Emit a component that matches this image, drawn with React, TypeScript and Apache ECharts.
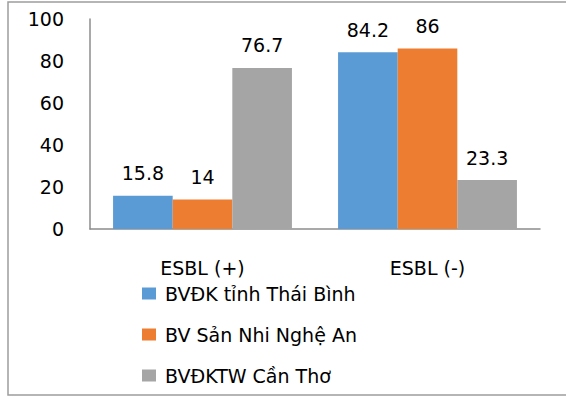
import React, { useEffect, useRef } from "react";
import * as echarts from "echarts";

const categories = ["ESBL (+)", "ESBL (-)"];
const seriesNames = ["BVĐK tỉnh Thái Bình", "BV Sản Nhi Nghệ An", "BVĐKTW Cần Thơ"];
const thaiBinh = [15.8, 84.2];
const ngheAn = [14, 86];
const canTho = [76.7, 23.3];
const colors = ["#5B9BD5", "#ED7D31", "#A5A5A5"];

const FONT = "DejaVu Sans";

export default function App() {
  const ref = useRef<HTMLDivElement>(null);

  useEffect(() => {
    if (!ref.current) return;
    const chart = echarts.init(ref.current, null, { renderer: "svg" });
    const values = [thaiBinh, ngheAn, canTho];
    chart.setOption({
      animation: false,
      backgroundColor: "#ffffff",
      textStyle: { fontFamily: FONT, color: "#000" },
      grid: { left: 90, right: 26, top: 19, bottom: 167, containLabel: false },
      graphic: [
        {
          type: "rect",
          shape: { x: 8, y: 2, width: 600, height: 393 },
          style: { fill: "none", stroke: "#9d9d9d", lineWidth: 1.5 },
          silent: true,
        },
      ],
      legend: {
        orient: "vertical",
        left: 137,
        top: 279,
        itemWidth: 14,
        itemHeight: 12,
        itemGap: 22,
        icon: "rect",
        data: seriesNames,
        textStyle: { fontFamily: FONT, fontSize: 19, color: "#000", padding: [0, 0, 0, 4] },
      },
      xAxis: {
        type: "category",
        data: categories,
        axisLine: { show: true, lineStyle: { color: "#8c8c8c", width: 1.5 } },
        axisTick: { show: false },
        axisLabel: { fontFamily: FONT, fontSize: 19, color: "#000", margin: 29 },
      },
      yAxis: {
        type: "value",
        min: 0,
        max: 100,
        interval: 20,
        splitLine: { show: false },
        axisLine: { show: true, lineStyle: { color: "#8c8c8c", width: 1.5 } },
        axisTick: { show: false },
        axisLabel: { fontFamily: FONT, fontSize: 19, color: "#000", margin: 26 },
      },
      series: seriesNames.map((name, i) => ({
        name,
        type: "bar",
        data: values[i],
        barGap: "0%",
        barCategoryGap: "20.5%",
        itemStyle: { color: colors[i] },
        label: {
          show: true,
          position: "top",
          distance: 13,
          fontFamily: FONT,
          fontSize: 19,
          color: "#000",
        },
      })),
    });
    return () => chart.dispose();
  }, []);

  return (
    <div
      ref={ref}
      style={{ position: "fixed", left: 0, top: 0, width: 566, height: 396 }}
    />
  );
}
